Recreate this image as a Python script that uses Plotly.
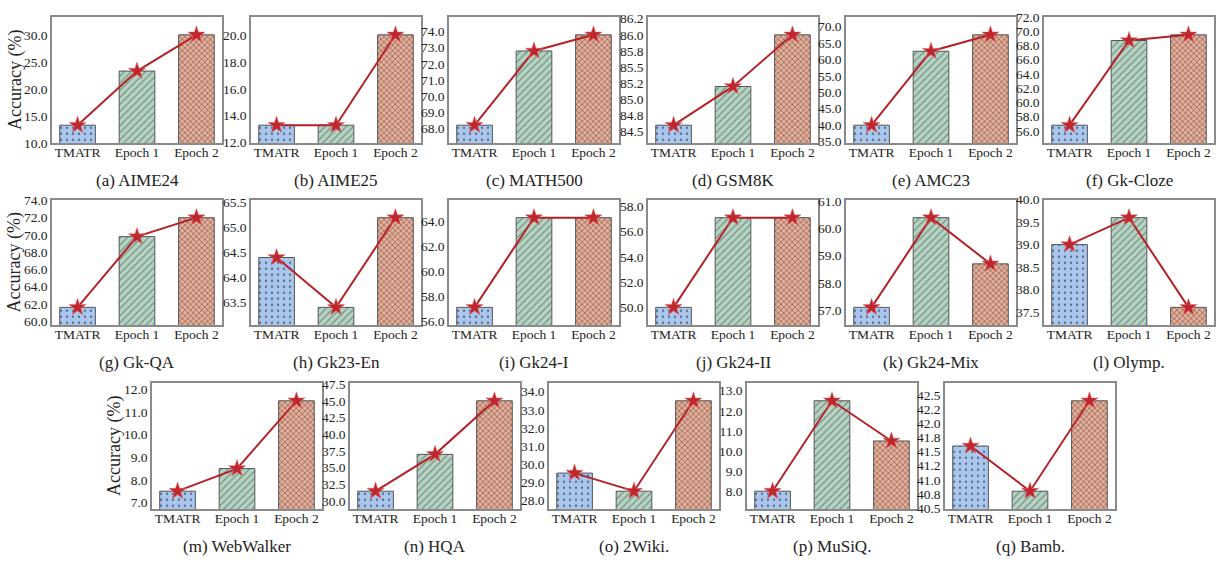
import math
import plotly.graph_objects as go

categories = ["TMATR", "Epoch 1", "Epoch 2"]
panel_titles = ["(a) AIME24", "(b) AIME25", "(c) MATH500", "(d) GSM8K", "(e) AMC23", "(f) Gk-Cloze",
                "(g) Gk-QA", "(h) Gk23-En", "(i) Gk24-I", "(j) Gk24-II", "(k) Gk24-Mix", "(l) Olymp.",
                "(m) WebWalker", "(n) HQA", "(o) 2Wiki.", "(p) MuSiQ.", "(q) Bamb."]
tmatr = [13.3, 13.3, 68.2, 84.6, 40.0, 56.8, 61.6, 64.4, 57.1, 50.0, 57.1, 39.0, 7.5, 31.5, 29.5, 8.0, 41.6]
epoch1 = [23.3, 13.3, 72.8, 85.2, 62.5, 68.7, 69.8, 63.4, 64.3, 57.1, 60.4, 39.6, 8.5, 37.0, 28.5, 12.5, 40.8]
epoch2 = [30.0, 20.0, 73.8, 86.0, 67.5, 69.5, 72.0, 65.2, 64.3, 57.1, 58.7, 37.6, 11.5, 45.0, 33.5, 10.5, 42.4]
tick_steps = [5, 2, 1, 0.25, 5, 2, 2, 0.5, 2, 2, 1, 0.5, 1, 2.5, 1, 1, 0.25]
y_title = "Accuracy (%)"

W, H = 1220, 563
FONT = "Liberation Serif, Times New Roman, serif"
bar_colors = ["#a9c7ee", "#b4d3c2", "#e5ae98"]
pat_shapes = [".", "/", "x"]
pat_fg = ["#111111", "#34453b", "#3a2520"]
pat_size = [6, 5, 4]
pat_sol = [0.12, 0.22, 0.35]

# layout geometry (pixels)
row_lefts = [[52, 251, 449, 648, 846, 1044], [52, 251, 449, 648, 846, 1044], [152, 350, 549, 747, 945]]
row_tb = [(10, 140), (198, 327), (386, 516)]
PW = 170

fig = go.Figure()
layout = dict(width=W, height=H, margin=dict(l=0, r=0, t=0, b=0),
              plot_bgcolor="white", paper_bgcolor="white", showlegend=False,
              font=dict(family=FONT, color="#222"))
annotations = []
idx = 0
for r, lefts in enumerate(row_lefts):
    top, bot = row_tb[r]
    for c, left in enumerate(lefts):
        k = idx + 1
        xn = "x" if k == 1 else f"x{k}"
        yn = "y" if k == 1 else f"y{k}"
        vals = [tmatr[idx], epoch1[idx], epoch2[idx]]
        lo, hi = min(vals), max(vals)
        pad = 0.2 * (hi - lo)
        ylo, yhi = lo - pad, hi + pad
        st = tick_steps[idx]
        tv = []
        m = math.ceil(ylo / st - 1e-6)
        while m * st <= yhi + 1e-6:
            tv.append(round(m * st, 4))
            m += 1
        tt = [f"{v:.1f}" for v in tv]
        for j in range(3):
            fig.add_trace(go.Bar(
                x=[categories[j]], y=[vals[j]], xaxis=xn, yaxis=yn, width=0.6,
                marker=dict(color=bar_colors[j], line=dict(color="#555", width=1),
                            pattern=dict(shape=pat_shapes[j], fgcolor=pat_fg[j], size=pat_size[j],
                                         solidity=pat_sol[j], fillmode="overlay")),
                hoverinfo="skip"))
        fig.add_trace(go.Scatter(
            x=categories, y=vals, xaxis=xn, yaxis=yn, mode="lines+markers",
            line=dict(color="#b5222a", width=2),
            marker=dict(symbol="star", size=13, color="#c0262d", line=dict(color="#e07070", width=0.5)),
            hoverinfo="skip"))
        xd = [left / W, (left + PW) / W]
        yd = [1 - bot / H, 1 - top / H]
        axx = dict(domain=xd, anchor=yn, range=[-0.43, 2.43], showline=True, mirror=True,
                   linecolor="#8a8a8a", linewidth=1.5, ticks="", ticklabelstandoff=-4,
                   tickfont=dict(family=FONT, size=13.5, color="#222"), showgrid=False, zeroline=False,
                   type="category", categoryorder="array", categoryarray=categories)
        axy = dict(domain=yd, anchor=xn, range=[ylo, yhi], showline=True, mirror=True,
                   linecolor="#8a8a8a", linewidth=1.5, ticks="",
                   tickvals=tv, ticktext=tt, tickfont=dict(family=FONT, size=13.5, color="#222"),
                   showgrid=False, zeroline=False)
        if c == 0:
            annotations.append(dict(text=y_title, xref="paper", yref="paper",
                                    x=(left - 37) / W, y=1 - (top + bot) / 2 / H, textangle=-90,
                                    xanchor="center", yanchor="middle", showarrow=False,
                                    font=dict(family=FONT, size=18, color="#222")))
        layout["xaxis" if k == 1 else f"xaxis{k}"] = axx
        layout["yaxis" if k == 1 else f"yaxis{k}"] = axy
        annotations.append(dict(text=panel_titles[idx], xref="paper", yref="paper",
                                x=(left + PW / 2) / W, y=1 - (bot + 38) / H, xanchor="center",
                                yanchor="middle", showarrow=False,
                                font=dict(family=FONT, size=17, color="#222")))
        idx += 1

layout["annotations"] = annotations
fig.update_layout(**layout)
fig.write_html("out.html", config={"displayModeBar": False},
               post_script="document.body.style.margin='0';document.body.style.padding='0';")
